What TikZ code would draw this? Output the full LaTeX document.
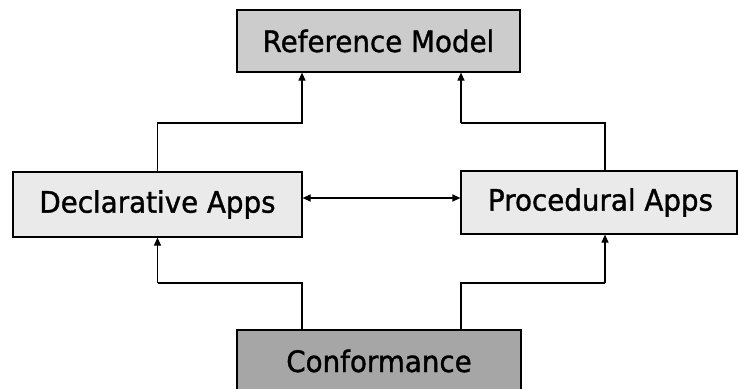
\documentclass[tikz,border=0pt]{standalone}
\usepackage{fontspec}
\setmainfont{DejaVu Sans}[FakeStretch=0.94,FakeBold=1.2]
\usetikzlibrary{arrows.meta}
\definecolor{refgray}{HTML}{CCCCCC}
\definecolor{appgray}{HTML}{EAEAEA}
\definecolor{confgray}{HTML}{A6A6A6}
\tikzset{
  box/.style={draw=black, line width=1.2pt, inner sep=0pt, font=\fontsize{29.5}{32}\selectfont},
  arr/.style={draw=black, line width=1.2pt, -{Triangle[length=8pt,width=7pt]}},
  link/.style={draw=black, line width=1.2pt},
}
\begin{document}
\begin{tikzpicture}[x=1pt,y=-1pt]
\useasboundingbox (0,0) rectangle (738,388);
\node[box, fill=refgray, minimum width=283pt, minimum height=62pt] (ref) at (378.5,41) {Reference Model};
\node[box, fill=appgray, minimum width=289pt, minimum height=65pt] (decl) at (157.5,204.5) {Declarative Apps};
\node[box, fill=appgray, minimum width=276pt, minimum height=63pt] (proc) at (599,202.5) {\hspace*{3pt}Procedural Apps};
\node[box, fill=confgray, minimum width=284pt, minimum height=62pt] (conf) at (379,361) {Conformance};
\coordinate (j1) at (302,123);
\coordinate (j2) at (461,123);
\coordinate (j3) at (302,283);
\coordinate (j4) at (461,283);
\coordinate (k2) at (605,123);
\coordinate (k4) at (605,283);
\coordinate (m) at (0,198);
% top connections
\draw[arr] (decl.north) |- (j1) -- (ref.south -| j1);
\draw[link] (proc.north -| k2) -- (k2) -- (j2);
\draw[arr] (j2) -- (ref.south -| j2);
% bottom connections
\draw[link] (conf.north -| j3) -- (j3) -- (j3 -| decl.south);
\draw[arr] (j3 -| decl.south) -- (decl.south);
\draw[link] (conf.north -| j4) -- (j4) -- (k4);
\draw[arr] (k4) -- (proc.south -| k4);
% middle double arrow
\draw[arr, {Triangle[length=8pt,width=7pt]}-{Triangle[length=8pt,width=7pt]}] (decl.east |- m) -- (proc.west |- m);
\end{tikzpicture}
\end{document}
